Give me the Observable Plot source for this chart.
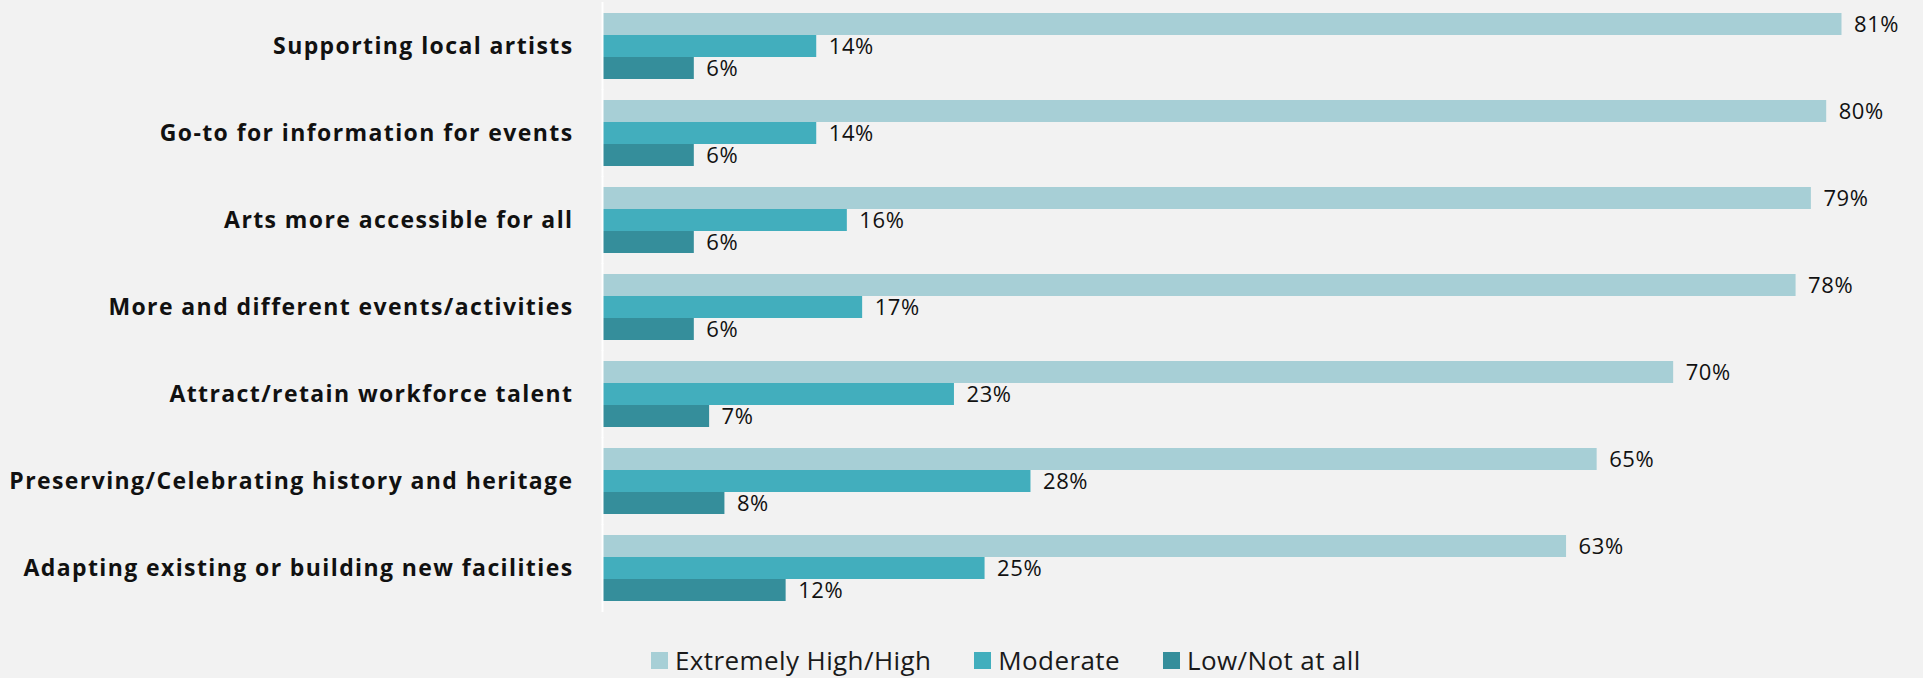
<!DOCTYPE html>
<html>
<head>
<meta charset="utf-8">
<script src="https://cdn.jsdelivr.net/npm/d3@7"></script>
<script src="https://cdn.jsdelivr.net/npm/@observablehq/plot@0.6"></script>
<style>
  html, body { margin: 0; padding: 0; background: #f2f2f2; }
  body { width: 1923px; height: 678px; overflow: hidden; font-family: "Open Sans", sans-serif; }
  #legend { display: flex; align-items: center; height: 44px; padding-top: 8px; box-sizing: border-box; padding-left: 651px; font-size: 26px; letter-spacing: 0.4px; color: #1a1a1a; }
  .item { display: flex; align-items: center; margin-right: 43px; }
  .sw { width: 17px; height: 17px; margin-right: 7px; }
  g[aria-label="fy-axis tick label"] text { letter-spacing: 1.4px; }
  g[aria-label="text"] text { letter-spacing: 0.6px; }
</style>
</head>
<body>
<div id="chart"></div>
<div id="legend"></div>
<script>
const categories = [
  "Supporting local artists",
  "Go-to for information for events",
  "Arts more accessible for all",
  "More and different events/activities",
  "Attract/retain workforce talent",
  "Preserving/Celebrating history and heritage",
  "Adapting existing or building new facilities"
];
const seriesNames = ["Extremely High/High", "Moderate", "Low/Not at all"];
const highValues = [81, 80, 79, 78, 70, 65, 63];
const moderateValues = [14, 14, 16, 17, 23, 28, 25];
const lowValues = [6, 6, 6, 6, 7, 8, 12];
const colors = ["#a7cfd6", "#42aebd", "#358e9b"];

const table = [];
categories.forEach((c, i) => {
  [highValues, moderateValues, lowValues].forEach((arr, s) => {
    table.push({category: c, series: seriesNames[s], value: arr[i]});
  });
});

const plot = Plot.plot({
  width: 1923,
  height: 634,
  marginLeft: 602,
  marginRight: 5,
  marginTop: 0,
  marginBottom: 20,
  style: {background: "#f2f2f2", fontFamily: "'Open Sans', sans-serif"},
  x: {domain: [0, 86], axis: null},
  y: {domain: seriesNames, padding: 0, axis: null},
  fy: {domain: categories, paddingInner: 0.24, paddingOuter: 0.12, label: null},
  color: {domain: seriesNames, range: colors},
  marks: [
    Plot.barX(table, {x: "value", y: "series", fy: "category", fill: "series"}),
    Plot.ruleX([0], {stroke: "white", strokeWidth: 2, insetTop: -11, insetBottom: -11}),
    Plot.text(table, {x: "value", y: "series", fy: "category", text: d => d.value + "%", textAnchor: "start", dx: 12, fontSize: 22, fill: "#111"}),
    Plot.axisFy({anchor: "left", tickSize: 0, tickPadding: 29, fontSize: 23, fontWeight: "bold", label: null, fill: "#111"})
  ]
});
document.getElementById("chart").append(plot);

const legend = d3.select("#legend");
seriesNames.forEach((s, i) => {
  const it = legend.append("div").attr("class", "item");
  it.append("div").attr("class", "sw").style("background", colors[i]);
  it.append("span").text(s);
});
</script>
</body>
</html>
